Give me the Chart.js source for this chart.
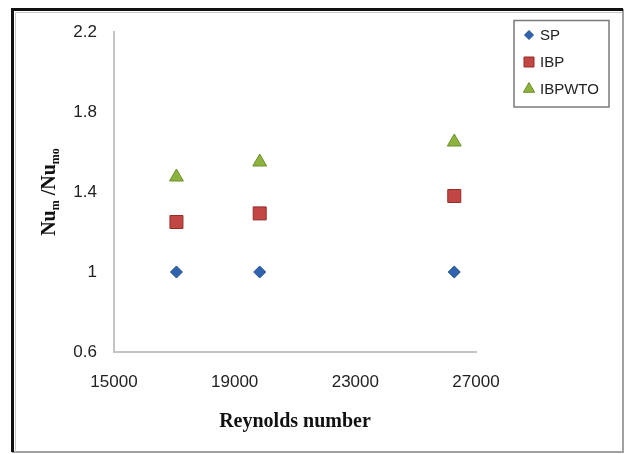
<!DOCTYPE html>
<html><head><meta charset="utf-8">
<script src="https://cdn.jsdelivr.net/npm/chart.js@4/dist/chart.umd.min.js"></script>
<style>html,body{margin:0;padding:0;background:#fff;overflow:hidden}canvas{display:block}</style>
</head><body>
<canvas id="c" width="626" height="454"></canvas>
<script>
const reynolds = [17070, 19830, 26280];
const spValues = [1.0, 1.0, 1.0];
const ibpValues = [1.25, 1.293, 1.38];
const ibpwtoValues = [1.475, 1.55, 1.65];
const seriesNames = ['SP', 'IBP', 'IBPWTO'];
const xTickLabels = ['15000', '19000', '23000', '27000'];
const yTickLabels = ['0.6', '1', '1.4', '1.8', '2.2'];

const styles = [
  {pointStyle: 'rectRot', radius: 6, fill: '#2f63ae', stroke: '#24508f'},
  {pointStyle: 'rect', radius: 9.2, fill: '#c24744', stroke: '#962b2a'},
  {pointStyle: 'triangle', radius: 8, fill: '#8db33f', stroke: '#6d8f2e'}
];
const values = [spValues, ibpValues, ibpwtoValues];

const datasets = seriesNames.map((name, i) => ({
  label: name,
  data: reynolds.map((x, j) => ({x: x, y: values[i][j]})),
  pointStyle: styles[i].pointStyle,
  pointRadius: styles[i].radius,
  pointBackgroundColor: styles[i].fill,
  pointBorderColor: styles[i].stroke,
  pointBorderWidth: 1,
  showLine: false
}));

const decor = {
  id: 'decor',
  afterDraw(chart) {
    const ctx = chart.ctx;
    ctx.save();
    // frame
    ctx.strokeStyle = '#a0a0a0'; ctx.lineWidth = 2;
    ctx.beginPath(); ctx.moveTo(623, 9); ctx.lineTo(623, 452); ctx.lineTo(12, 452); ctx.stroke();
    ctx.strokeStyle = '#111'; ctx.lineWidth = 3;
    ctx.beginPath(); ctx.moveTo(12.5, 452); ctx.lineTo(12.5, 9.5); ctx.lineTo(623, 9.5); ctx.stroke();
    ctx.strokeStyle = '#c8c8c8'; ctx.lineWidth = 1;
    ctx.beginPath(); ctx.moveTo(15.5, 452); ctx.lineTo(15.5, 12.5); ctx.lineTo(622, 12.5); ctx.stroke();

    // legend
    ctx.strokeStyle = '#7a7a7a'; ctx.lineWidth = 1.5;
    ctx.strokeRect(514, 20.5, 95, 86.5);
    const ly = [35, 62, 89];
    ctx.font = '15px "Liberation Sans", Arial, sans-serif';
    ctx.textBaseline = 'middle'; ctx.textAlign = 'left';
    seriesNames.forEach((name, i) => {
      const x = 529, y = ly[i];
      ctx.fillStyle = styles[i].fill; ctx.strokeStyle = styles[i].stroke; ctx.lineWidth = 1;
      ctx.beginPath();
      if (i === 0) { const r = 4.5; ctx.moveTo(x - r, y); ctx.lineTo(x, y - r); ctx.lineTo(x + r, y); ctx.lineTo(x, y + r); ctx.closePath(); }
      else if (i === 1) { ctx.rect(x - 5, y - 5, 10, 10); }
      else { const r = 6.5; ctx.moveTo(x, y - r); ctx.lineTo(x + r * 0.866, y + r * 0.5); ctx.lineTo(x - r * 0.866, y + r * 0.5); ctx.closePath(); }
      ctx.fill(); ctx.stroke();
      ctx.fillStyle = '#222';
      ctx.fillText(name, 540, y + 1);
    });

    // x title
    ctx.fillStyle = '#111';
    ctx.font = 'bold 20px "Liberation Serif", "Times New Roman", serif';
    ctx.textAlign = 'center'; ctx.textBaseline = 'alphabetic';
    ctx.fillText('Reynolds number', 295, 427);

    // y title with subscripts
    const segs = [
      {t: 'Nu', f: 'bold 20px "Liberation Serif", serif', dy: 0},
      {t: 'm', f: 'bold 12px "Liberation Serif", serif', dy: 4},
      {t: ' /Nu', f: 'bold 20px "Liberation Serif", serif', dy: 0},
      {t: 'mo', f: 'bold 12px "Liberation Serif", serif', dy: 4}
    ];
    let W = 0;
    segs.forEach(s => { ctx.font = s.f; s.w = ctx.measureText(s.t).width; W += s.w; });
    ctx.translate(55, 192); ctx.rotate(-Math.PI / 2);
    ctx.textAlign = 'left';
    let u = -W / 2;
    segs.forEach(s => { ctx.font = s.f; ctx.fillText(s.t, u, s.dy); u += s.w; });
    ctx.restore();
  }
};

new Chart(document.getElementById('c'), {
  type: 'scatter',
  data: {datasets: datasets},
  options: {
    responsive: false, animation: false,
    layout: {padding: {left: 0, right: 150, top: 32, bottom: 0}},
    plugins: {legend: {display: false}, tooltip: {enabled: false}},
    scales: {
      x: {
        type: 'linear', min: 15000, max: 27000,
        afterBuildTicks: s => { s.ticks = xTickLabels.map(v => ({value: Number(v)})); },
        ticks: {callback: v => xTickLabels.find(l => Number(l) === v) || '', padding: 20, color: '#222',
          font: {family: '"Liberation Sans", Arial, sans-serif', size: 17}, maxRotation: 0},
        grid: {display: false, drawTicks: false},
        border: {color: '#c4c4c4', width: 2},
        afterFit: s => { s.height = 102; }
      },
      y: {
        type: 'linear', min: 0.6, max: 2.2,
        afterBuildTicks: s => { s.ticks = yTickLabels.map(v => ({value: Number(v)})); },
        ticks: {callback: v => yTickLabels.find(l => Math.abs(Number(l) - v) < 1e-9) || '', padding: 17, color: '#222',
          font: {family: '"Liberation Sans", Arial, sans-serif', size: 17}},
        grid: {display: false, drawTicks: false},
        border: {color: '#c4c4c4', width: 2},
        afterFit: s => { s.width = 114; }
      }
    }
  },
  plugins: [decor]
});
</script>
</body></html>
